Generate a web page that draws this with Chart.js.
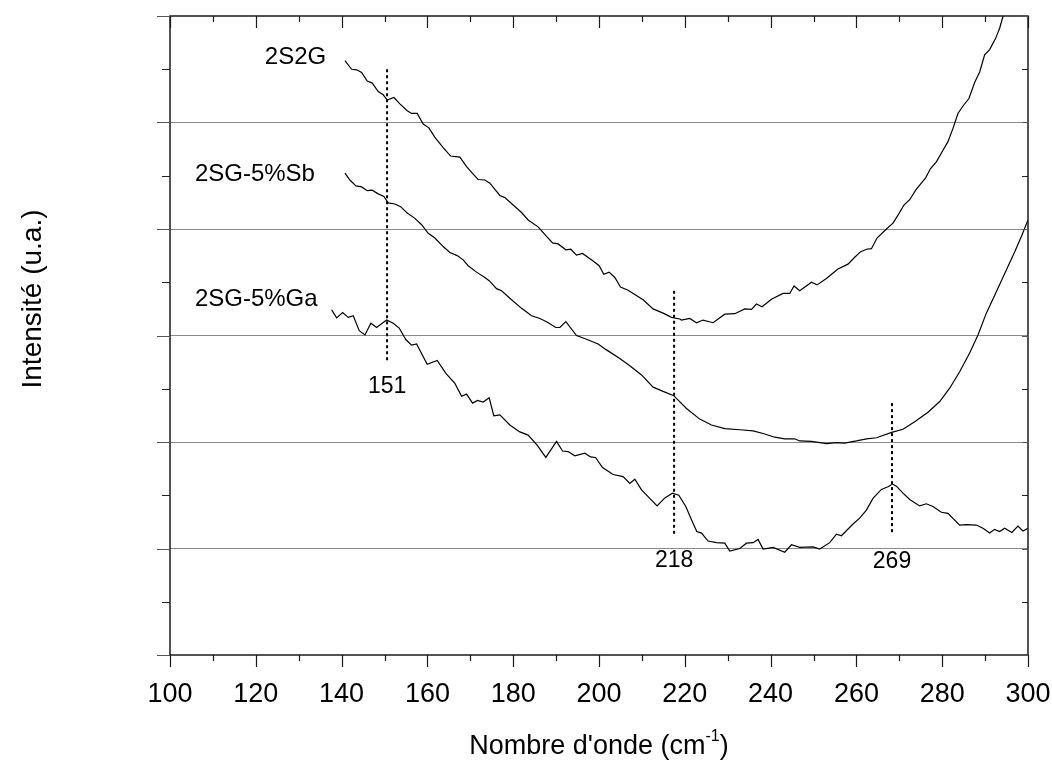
<!DOCTYPE html>
<html><head><meta charset="utf-8">
<script src="https://cdn.jsdelivr.net/npm/chart.js@4.4.0/dist/chart.umd.min.js"></script>
<style>html,body{margin:0;padding:0;background:#fff}#wrap{width:1052px;height:762px}</style>
</head><body><div id="wrap"><canvas id="c" width="1052" height="762"></canvas></div>
<script>
// ---- data ----
const s2g_x = [140.78,142.34,143.50,144.67,145.97,147.14,148.53,149.70,150.63,152.19,153.59,155.29,156.32,157.62,159.02,160.35,161.75,163.68,165.40,167.57,169.13,170.67,171.83,173.40,174.56,176.89,178.06,179.99,181.95,183.48,185.81,187.77,189.17,190.47,192.27,193.43,194.76,196.16,198.63,200.03,201.12,202.36,203.69,205.01,206.78,208.35,210.28,212.61,214.94,216.90,218.83,219.22,221.16,222.72,224.26,226.59,229.32,231.65,233.98,235.54,236.70,238.01,240.20,242.90,244.46,245.46,246.79,249.52,250.82,253.01,255.71,258.04,259.61,260.93,262.33,263.50,264.80,267.13,268.53,269.70,271.09,272.42,273.98,276.15,277.24,278.64,280.18,281.34,282.51,283.67,284.84,286.23,287.56,288.73,289.89,291.06,292.45,293.39,294.16,294.8];
const s2g_y = [11.16,11.00,10.99,10.94,10.78,10.74,10.58,10.52,10.42,10.47,10.35,10.22,10.17,10.17,9.97,9.90,9.72,9.53,9.37,9.35,9.17,9.03,8.93,8.92,8.86,8.63,8.59,8.45,8.31,8.17,8.04,7.86,7.74,7.72,7.61,7.62,7.51,7.54,7.40,7.31,7.15,7.19,7.09,6.91,6.85,6.77,6.67,6.50,6.42,6.34,6.31,6.29,6.32,6.24,6.29,6.24,6.40,6.41,6.50,6.49,6.59,6.54,6.68,6.79,6.79,6.93,6.84,7.00,6.95,7.07,7.25,7.34,7.47,7.57,7.62,7.63,7.83,8.01,8.11,8.26,8.45,8.55,8.75,8.96,9.13,9.26,9.48,9.64,9.89,10.17,10.31,10.45,10.75,10.95,11.27,11.37,11.58,11.77,11.99,12.2];

const sb_x = [140.78,141.94,143.34,144.67,145.97,147.14,148.53,149.86,150.86,152.42,153.75,155.29,157.09,158.65,160.19,161.75,163.68,165.24,166.94,168.34,169.50,171.46,173.40,174.40,176.12,177.29,179.22,181.95,184.28,186.21,187.77,189.94,190.87,192.27,194.76,197.09,199.80,201.75,204.85,207.18,209.91,212.61,214.94,217.43,220.39,223.49,226.22,229.32,232.82,235.92,238.25,240.97,243.30,245.63,246.79,249.52,253.01,255.35,257.28,260.00,262.33,264.67,268.23,270.86,273.59,276.69,279.42,281.74,284.07,286.40,288.34,290.29,292.62,294.95,296.89,298.5,300];
const sb_y = [9.05,8.92,8.81,8.79,8.72,8.73,8.66,8.61,8.49,8.47,8.42,8.30,8.20,8.08,7.92,7.83,7.67,7.56,7.50,7.42,7.31,7.19,7.09,7.03,6.88,6.84,6.70,6.51,6.37,6.32,6.26,6.15,6.15,6.26,6.00,5.93,5.84,5.73,5.57,5.43,5.26,5.03,4.95,4.87,4.63,4.43,4.32,4.25,4.23,4.21,4.16,4.09,4.06,4.06,4.02,4.01,3.97,3.99,3.98,4.02,4.06,4.08,4.18,4.24,4.38,4.56,4.76,5.01,5.32,5.67,6.01,6.42,6.82,7.23,7.57,7.87,8.17];

const ga_x = [137.68,138.84,140.24,141.54,142.71,144.11,145.44,146.83,148.16,150.49,152.03,153.43,154.99,156.32,157.48,159.95,162.28,164.31,166.41,167.97,169.13,170.53,171.69,173.00,174.40,175.49,176.89,179.22,181.55,183.48,185.58,187.61,190.10,191.50,192.80,194.37,196.70,198.03,199.19,200.82,203.29,205.62,207.18,208.35,209.91,211.84,213.54,215.34,217.13,218.60,220.23,221.56,222.79,223.89,225.43,227.38,229.32,230.48,232.82,234.38,235.92,237.08,238.25,240.58,243.30,244.86,246.79,249.89,251.45,253.78,255.35,256.51,259.21,260.77,262.33,263.87,265.83,267.37,268.39,269.32,270.86,272.42,274.75,276.31,277.85,279.81,281.34,284.07,285.63,287.96,289.50,291.06,292.22,293.39,294.55,296.25,297.65,298.82,300];
const ga_y = [6.48,6.33,6.43,6.34,6.37,6.09,6.01,6.23,6.15,6.29,6.23,6.14,5.92,5.82,5.84,5.46,5.53,5.29,5.10,4.86,4.90,4.73,4.78,4.75,4.83,4.49,4.51,4.32,4.19,4.13,3.94,3.71,4.01,3.83,3.82,3.74,3.79,3.72,3.71,3.52,3.39,3.35,3.22,3.30,3.10,2.94,2.80,2.95,3.04,3.00,2.79,2.54,2.32,2.29,2.14,2.11,2.10,1.95,2.00,2.10,2.11,2.17,1.99,2.02,1.93,2.07,2.02,2.03,1.99,2.11,2.27,2.24,2.46,2.57,2.72,2.94,3.11,3.16,3.21,3.17,3.04,2.92,2.80,2.84,2.79,2.68,2.66,2.44,2.45,2.44,2.38,2.29,2.36,2.32,2.38,2.30,2.42,2.33,2.38];

// series labels
const seriesNames = ['2S2G', '2SG-5%Sb', '2SG-5%Ga'];
const seriesLabelX = [122.1, 105.8, 105.8];
const seriesLabelY = [11.23, 9.03, 6.67];

// peak markers
const peakLabels = ['151', '218', '269'];
const peakX = [150.6, 217.5, 268.3];
const peakTop = [11.0, 6.84, 4.73];
const peakBottom = [5.5, 2.22, 2.25];
const peakLabelY = [5.03, 1.77, 1.75];

// axes
const xMin = 100, xMax = 300, xStep = 20, xMinor = 10;
const yMin = 0, yMax = 12, yStep = 1, yGridStep = 2;
const xTitleMain = "Nombre d'onde (cm", xTitleSup = "-1", xTitleEnd = ")";
const yTitle = "Intensité (u.a.)";

const FONT = "'Liberation Sans', Arial, sans-serif";

function pts(xs, ys){ return xs.map((x,i)=>({x:x, y:ys[i]})); }

const datasets = [
  {label: seriesNames[0], data: pts(s2g_x, s2g_y)},
  {label: seriesNames[1], data: pts(sb_x, sb_y)},
  {label: seriesNames[2], data: pts(ga_x, ga_y)}
].map(d => Object.assign(d, {showLine:true, borderColor:'#000', borderWidth:1.2, pointRadius:0, tension:0, fill:false}));

peakX.forEach((px,i)=>{
  datasets.push({label:'peak'+peakLabels[i], data:[{x:px,y:peakTop[i]},{x:px,y:peakBottom[i]}],
    showLine:true, borderColor:'#000', borderWidth:2, borderDash:[3,3], pointRadius:0, fill:false});
});

const decor = {
  id: 'decor',
  afterDraw(chart){
    const ctx = chart.ctx, a = chart.chartArea;
    const xs = chart.scales.x, ys = chart.scales.y;
    ctx.save();
    // frame
    ctx.strokeStyle = '#1a1a1a';
    ctx.lineWidth = 1.5;
    ctx.strokeRect(a.left, a.top, a.right - a.left, a.bottom - a.top);
    // x ticks: bottom outward, top inward
    ctx.lineWidth = 1.2;
    for (let v = xMin; v <= xMax + 1e-9; v += xMinor){
      const p = Math.round(xs.getPixelForValue(v)) + 0.5;
      const major = (v - xMin) % xStep === 0;
      const L = major ? 12 : 6;
      ctx.beginPath();
      ctx.moveTo(p, a.bottom); ctx.lineTo(p, a.bottom + L);
      ctx.moveTo(p, a.top); ctx.lineTo(p, a.top + L);
      ctx.stroke();
    }
    // y ticks: left outward, right inward
    for (let v = yMin; v <= yMax + 1e-9; v += yStep){
      const p = Math.round(ys.getPixelForValue(v)) + 0.5;
      const major = (v % yGridStep) === 0;
      ctx.strokeStyle = major ? '#555' : '#222';
      ctx.beginPath();
      ctx.moveTo(a.left, p); ctx.lineTo(a.left - (major ? 13 : 8), p);
      ctx.moveTo(a.right, p); ctx.lineTo(a.right - 6, p);
      ctx.stroke();
    }
    // series labels
    ctx.fillStyle = '#000';
    ctx.font = '24px ' + FONT;
    ctx.textAlign = 'left'; ctx.textBaseline = 'middle';
    seriesNames.forEach((t,i)=>{
      ctx.fillText(t, xs.getPixelForValue(seriesLabelX[i]), ys.getPixelForValue(seriesLabelY[i]));
    });
    // peak labels
    ctx.font = '23px ' + FONT;
    ctx.textAlign = 'center';
    peakLabels.forEach((t,i)=>{
      ctx.fillText(t, xs.getPixelForValue(peakX[i]), ys.getPixelForValue(peakLabelY[i]));
    });
    // x title with superscript
    const cx = (a.left + a.right) / 2, base = 754;
    ctx.textBaseline = 'alphabetic'; ctx.textAlign = 'left';
    const big = '27px ' + FONT, small = '16px ' + FONT;
    ctx.font = big;
    const w1 = ctx.measureText(xTitleMain).width, w3 = ctx.measureText(xTitleEnd).width;
    ctx.font = small;
    const w2 = ctx.measureText(xTitleSup).width;
    let x0 = cx - (w1 + w2 + w3) / 2;
    ctx.font = big;
    ctx.fillText(xTitleMain, x0, base);
    ctx.font = small;
    ctx.fillText(xTitleSup, x0 + w1, base - 13);
    ctx.font = big;
    ctx.fillText(xTitleEnd, x0 + w1 + w2, base);
    // y title
    ctx.translate(33, 299);
    ctx.rotate(-Math.PI/2);
    ctx.textAlign = 'center'; ctx.textBaseline = 'middle';
    ctx.font = '28px ' + FONT;
    ctx.fillText(yTitle, 0, 0);
    ctx.restore();
  }
};

new Chart(document.getElementById('c'), {
  type: 'scatter',
  data: {datasets},
  options: {
    responsive: false,
    animation: false,
    devicePixelRatio: 1,
    layout: {padding: {top: 16, right: 24, left: 0, bottom: 0}},
    plugins: {legend: {display: false}, tooltip: {enabled: false}},
    scales: {
      x: {
        type: 'linear', min: xMin, max: xMax,
        ticks: {stepSize: xStep, color: '#000', padding: 15, font: {family: FONT, size: 27}, maxRotation: 0},
        grid: {display: false},
        border: {display: false},
        afterFit: s => { s.height = 107; s.paddingLeft = 0; s.paddingRight = 0; }
      },
      y: {
        type: 'linear', min: yMin, max: yMax,
        ticks: {display: false, stepSize: yStep},
        grid: {drawTicks: false, lineWidth: 1,
          color: c => (c.tick && c.tick.value % yGridStep === 0 && c.tick.value > yMin && c.tick.value < yMax) ? '#8a8a8a' : 'rgba(0,0,0,0)'},
        border: {display: false},
        afterFit: s => { s.width = 170; s.paddingTop = 0; s.paddingBottom = 0; }
      }
    }
  },
  plugins: [decor]
});
</script>
</body></html>
